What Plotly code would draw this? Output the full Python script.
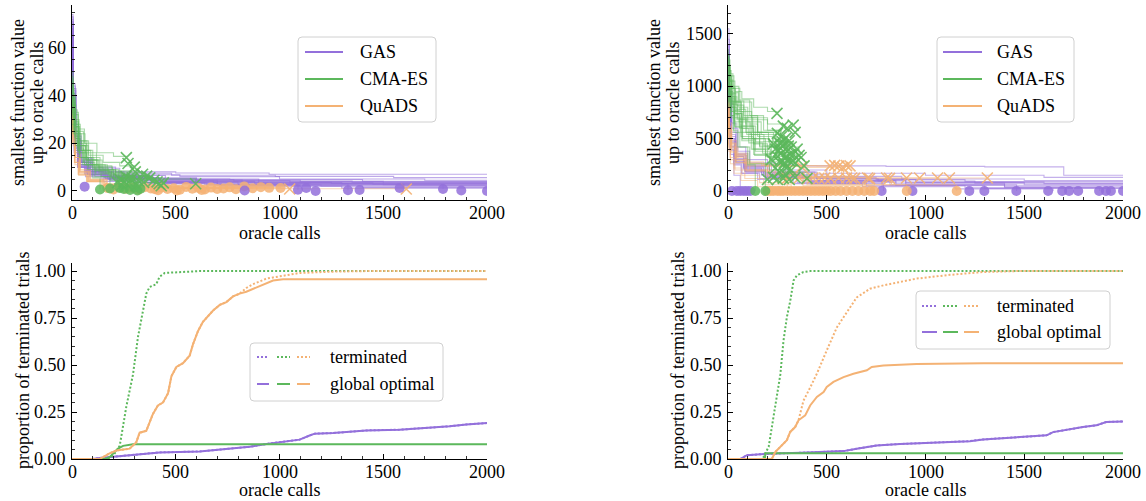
import plotly.graph_objects as go

W, H = 1146, 501
PURPLE = "#9370DB"
GREEN = "#5CB85C"
ORANGE = "#F4B274"
FONT = "Liberation Serif, Times New Roman, serif"

# ---------------- data: top-left (smallest value, problem 1) ----------------
gas_tl = [
    ([0, 5, 15, 35, 80, 160, 300, 600, 1100, 2000], [74, 45, 25, 14, 9, 7, 5.5, 4.5, 3.8, 3.8]),
    ([0, 4, 12, 30, 70, 150, 320, 700, 1300, 2000], [65, 38, 20, 12, 8, 6, 4.5, 3.5, 3, 3]),
    ([0, 6, 18, 40, 90, 200, 450, 900, 1500, 2000], [70, 42, 22, 13, 9, 6.5, 5, 4, 3.2, 3.2]),
    ([0, 5, 14, 32, 75, 170, 380, 800, 1600, 2000], [62, 35, 18, 11, 7, 5, 3.8, 2.8, 2.2, 2.2]),
    ([0, 3, 10, 28, 60, 140, 300, 650, 1200, 2000], [58, 30, 16, 10, 7, 5, 3.5, 2.5, 2, 2]),
    ([0, 7, 20, 45, 100, 250, 520, 1000, 1700, 2000], [68, 40, 21, 12, 8, 6.8, 6, 5, 4.5, 4.5]),
    ([0, 4, 13, 36, 85, 180, 400, 850, 1400, 2000], [60, 34, 17, 10, 6.5, 4.5, 3, 2.2, 1.5, 1.5]),
    ([0, 5, 16, 38, 95, 210, 500, 950, 1600, 2000], [72, 44, 24, 14, 10, 8, 7.5, 7, 7, 7]),
    ([0, 6, 17, 42, 88, 190, 420, 880, 1500, 2000], [66, 37, 19, 11, 7.5, 5.5, 4, 3, 2.6, 2.6]),
    ([0, 4, 11, 27, 65, 150, 330, 720, 1300, 2000], [55, 30, 17, 10, 6, 4, 3, 2, 1.2, 1.2]),
    ([0, 5, 15, 35, 80, 170, 350, 700, 1089], [64, 36, 19, 11, 7, 5, 3.5, 2.5, 0.5]),
    ([0, 6, 16, 40, 90, 200, 420, 900, 1330], [69, 39, 20, 12, 8, 5.5, 4, 3, 0.3]),
    ([0, 4, 12, 30, 75, 160, 340, 680, 1250, 2000], [61, 33, 18, 10, 6.8, 5.2, 4.2, 3.6, 3.1, 3.1]),
    ([0, 5, 14, 33, 80, 175, 360, 760, 1400, 2000], [67, 36, 19, 11, 7.2, 5.8, 5, 4.8, 4, 4]),
    ([0, 5, 13, 31, 70, 160, 330, 640, 1100, 2000], [63, 35, 18, 10.5, 7, 5, 3.4, 2.6, 2.4, 2.4]),
    ([0, 6, 15, 37, 84, 185, 390, 820, 1450, 1788], [71, 41, 22, 13, 8.5, 6, 4.6, 3.4, 2.8, 0.8]),
    ([0, 4, 10, 26, 62, 145, 310, 600, 1050, 2000], [59, 33, 19, 12, 8.2, 6.4, 5.2, 4.4, 3.4, 3.4]),
    ([0, 6, 19, 44, 98, 230, 480, 980, 1550, 2000], [73, 43, 23, 13.5, 9.5, 7.4, 6.6, 6.1, 5.6, 5.6]),
    ([0, 5, 12, 29, 68, 155, 340, 700, 1150, 2000], [64, 36, 20, 12, 8, 5.6, 3.6, 2.9, 2.7, 2.7]),
    ([0, 4, 14, 34, 78, 165, 370, 780, 1350, 2000], [68, 38, 21, 12.5, 8.4, 6.2, 4.8, 4.1, 3.6, 3.6]),
]
cma_tl = [
    ([0, 5, 15, 30, 60, 120, 200, 262], [48, 40, 32, 26, 20, 16, 14.5, 14.2]),
    ([0, 6, 18, 40, 80, 150, 230, 300], [42, 36, 28, 21, 15, 12, 10.5, 10]),
    ([0, 4, 12, 28, 55, 110, 180, 270], [38, 32, 25, 18, 12, 8.5, 6.5, 6]),
    ([0, 5, 14, 32, 70, 130, 210, 340], [45, 38, 29, 20, 13, 9, 7.5, 7]),
    ([0, 7, 20, 45, 90, 160, 250, 410], [35, 30, 24, 17, 11, 7.5, 5, 3.8]),
    ([0, 5, 15, 35, 75, 140, 220, 300], [30, 26, 20, 14, 9, 6, 4, 1.5]),
    ([0, 4, 13, 30, 60, 110, 183], [40, 33, 25, 17, 11, 6, 1]),
    ([0, 6, 16, 36, 70, 130, 200, 250, 320], [33, 28, 22, 16, 11, 7.5, 5.5, 4.5, 4.2]),
    ([0, 5, 14, 30, 65, 120, 190, 280, 430], [44, 37, 28, 19, 13, 8.5, 5.5, 3.5, 2.2]),
    ([0, 4, 12, 27, 50, 100, 135], [37, 31, 24, 17, 11, 5.5, 0.6]),
    ([0, 6, 18, 38, 80, 150, 240, 360], [28, 24, 19, 14, 10, 7.5, 6.5, 6.2]),
    ([0, 5, 15, 34, 72, 135, 210, 596], [46, 39, 30, 21, 14, 8.5, 5, 3]),
    ([0, 4, 10, 25, 55, 100, 170, 290], [50, 43, 34, 25, 17, 11, 8, 5.5]),
    ([0, 6, 16, 33, 66, 125, 195, 305], [41, 35, 27, 19, 13, 10, 8.5, 8]),
    ([0, 5, 13, 29, 58, 115, 185, 250], [36, 30, 23, 16, 11, 7, 4.5, 4]),
    ([0, 5, 17, 37, 78, 145, 225, 375], [43, 36, 27, 19, 13, 9, 6, 5.5]),
    ([0, 3, 11, 24, 52, 105, 175, 280], [39, 34, 27, 20, 14, 9.5, 6.8, 3.2]),
    ([0, 6, 14, 31, 63, 118, 192, 260], [47, 41, 33, 24, 16, 10.5, 7, 5.2]),
]
quads_tl = [
    ([0, 5, 15, 35, 80, 150, 250, 400, 560], [36, 24, 14, 8, 4.5, 2.5, 1.8, 1.2, 0.8]),
    ([0, 4, 12, 30, 70, 140, 240, 380, 720], [32, 20, 12, 7, 4, 2.2, 1.5, 1.0, 0.6]),
    ([0, 6, 18, 40, 90, 170, 300, 500, 1005], [40, 27, 16, 9, 5, 3, 2, 1.5, 1.2]),
    ([0, 5, 14, 32, 75, 160, 260, 420], [30, 19, 11, 6.5, 3.8, 2.2, 1.4, 0.9]),
    ([0, 4, 13, 34, 78, 155, 280, 460, 870], [34, 22, 13, 7.5, 4.2, 2.4, 1.6, 1.1, 0.9]),
    ([0, 6, 16, 38, 85, 165, 230], [38, 25, 15, 8.5, 4.8, 2.8, 1.5]),
    ([0, 5, 15, 36, 82, 158, 290, 480, 1049], [35, 23, 14, 8, 4.5, 2.6, 1.8, 1.2, 0.8]),
    ([0, 5, 14, 33, 76, 150, 270, 480, 800, 1611], [33, 21, 12, 7, 4, 2.4, 1.6, 1.1, 0.9, 0.8]),
    ([0, 4, 12, 30, 70, 145, 250, 390, 640], [31, 20, 12, 7, 4, 2.3, 1.5, 1.0, 0.7]),
    ([0, 6, 17, 40, 88, 168, 300, 520, 950], [37, 24, 14, 8, 4.6, 2.7, 1.9, 1.4, 1.0]),
]
gas_tl_dot_x = [61, 832, 1089, 1129, 1174, 1330, 1386, 1579, 1788, 1876, 2000]
gas_tl_dot_y = [1.8, 0.2, 0.5, 1.2, 0.0, 0.3, 0.4, 1.2, 0.8, 0.2, 0.0]
cma_tl_dot_x = [135, 183, 230, 250, 280, 300, 315, 330]
cma_tl_dot_y = [0.6, 1.0, 1.2, 0.8, 0.4, 1.5, 0.2, 0.9]
cma_tl_x_x = [262, 270, 300, 305, 340, 360, 375, 395, 410, 420, 430, 440, 596, 230, 250, 280, 240,
              260, 290, 320, 220, 310, 265, 285, 345]
cma_tl_x_y = [14, 11.5, 10, 8, 7, 6.2, 5.5, 4.5, 3.8, 3, 2.2, 3.4, 3, 5, 4, 3.2, 2.5,
              6, 5.5, 4.2, 3.5, 2.4, 2.8, 4.8, 3.6]
quads_tl_dot_x = [170, 200, 230, 260, 290, 320, 350, 380, 400, 430, 460, 490, 520, 550, 580, 610,
                  640, 670, 700, 730, 760, 790, 830, 870, 910, 950, 1005, 415, 505, 625]
quads_tl_dot_y = [1.2, 0.6, 1.5, 0.9, 1.3, 0.5, 1.6, 1.0, 0.7, 1.4, 0.8, 1.1, 0.5, 1.7, 0.9, 1.2,
                  0.6, 1.4, 0.8, 1.0, 1.5, 0.7, 1.9, 1.1, 1.6, 1.3, 1.2, 0.3, 0.2, 0.4]
quads_tl_x_x = [1049, 1611]
quads_tl_x_y = [0.8, 0.8]

# ---------------- data: top-right (smallest value, problem 2) ----------------
gas_tr = [
    ([0, 5, 15, 40, 90, 200, 400, 800, 1300, 1700, 2000], [1550, 1000, 650, 420, 300, 250, 240, 235, 230, 150, 150]),
    ([0, 4, 12, 35, 80, 180, 380, 750, 1200, 2000], [1300, 800, 500, 330, 230, 170, 130, 110, 90, 90]),
    ([0, 6, 18, 45, 100, 220, 450, 900, 1500, 2000], [1400, 900, 560, 360, 250, 180, 120, 80, 60, 60]),
    ([0, 5, 14, 38, 85, 190, 410, 820, 1400, 2000], [1200, 720, 430, 280, 190, 130, 90, 60, 40, 40]),
    ([0, 3, 10, 30, 70, 160, 350, 700, 1200, 2000], [1100, 650, 400, 260, 170, 120, 80, 50, 30, 30]),
    ([0, 7, 20, 50, 110, 240, 500, 1000, 1600, 2000], [1450, 950, 600, 380, 270, 200, 170, 150, 130, 130]),
    ([0, 4, 13, 36, 85, 180, 400, 850, 1400, 2000], [1250, 760, 460, 300, 200, 140, 100, 75, 55, 55]),
    ([0, 5, 16, 38, 95, 210, 500, 950, 1600, 2000], [1350, 850, 520, 340, 230, 160, 110, 85, 70, 70]),
    ([0, 4, 12, 30, 62], [1000, 600, 350, 150, 0]),
    ([0, 5, 15, 40, 90, 200, 420, 787], [1150, 700, 420, 270, 180, 120, 70, 0]),
    ([0, 6, 17, 42, 95, 210, 450, 900, 1461], [1280, 780, 480, 310, 210, 150, 100, 60, 0]),
    ([0, 5, 14, 35, 85, 190, 420, 850, 1400, 1882], [1180, 700, 420, 280, 190, 130, 85, 55, 35, 0]),
    ([0, 4, 12, 32, 80, 170, 380, 780, 1300, 2000], [1320, 820, 500, 330, 220, 150, 95, 50, 25, 25]),
    ([0, 5, 15, 38, 90, 200, 440, 880, 1500, 2000], [1400, 870, 540, 350, 240, 180, 140, 115, 100, 100]),
    ([0, 6, 16, 36, 78, 170, 360, 760, 1250, 2000], [1260, 780, 470, 300, 210, 160, 120, 95, 75, 75]),
    ([0, 4, 11, 29, 66, 150, 330, 680, 1150, 1646], [1120, 660, 390, 250, 170, 110, 70, 40, 20, 0]),
]
cma_tr = [
    ([0, 5, 15, 35, 70, 130, 200, 248], [1250, 1150, 1050, 950, 880, 800, 760, 742]),
    ([0, 4, 12, 30, 60, 120, 200, 280], [1100, 1000, 920, 850, 760, 680, 640, 620]),
    ([0, 6, 18, 40, 80, 150, 230, 330], [1150, 1050, 930, 820, 700, 560, 470, 420]),
    ([0, 5, 14, 32, 70, 130, 210, 300], [1050, 950, 850, 740, 620, 500, 420, 380]),
    ([0, 7, 20, 45, 90, 160, 250, 350], [1000, 900, 800, 680, 560, 430, 350, 300]),
    ([0, 5, 15, 35, 75, 140, 220, 300], [1180, 1050, 900, 760, 620, 470, 360, 290]),
    ([0, 4, 13, 30, 60, 110, 189], [900, 800, 700, 560, 420, 260, 0]),
    ([0, 6, 16, 36, 70, 130, 200, 260], [1120, 1000, 880, 740, 600, 450, 320, 250]),
    ([0, 5, 14, 30, 65, 120, 190, 280, 400], [1280, 1150, 1000, 850, 680, 500, 330, 180, 120]),
    ([0, 4, 12, 27, 50, 100, 138], [950, 850, 720, 580, 420, 250, 0]),
    ([0, 6, 18, 38, 80, 150, 240, 360], [1230, 1100, 980, 860, 720, 560, 420, 340]),
    ([0, 5, 15, 34, 72, 135, 210, 310], [1020, 920, 800, 660, 500, 340, 200, 110]),
    ([0, 5, 12, 30, 60, 120, 200, 270], [1300, 1200, 1100, 980, 850, 700, 580, 520]),
    ([0, 4, 14, 33, 70, 130, 220, 230], [980, 880, 760, 620, 480, 350, 250, 220]),
    ([0, 5, 16, 34, 68, 125, 205, 320], [1200, 1100, 980, 850, 700, 560, 470, 430]),
    ([0, 6, 15, 31, 62, 118, 190, 290], [1060, 950, 830, 700, 560, 400, 260, 180]),
    ([0, 3, 10, 25, 55, 110, 180, 265], [1350, 1250, 1120, 1000, 870, 720, 580, 500]),
    ([0, 5, 11, 28, 58, 105, 175, 290], [1080, 980, 860, 730, 600, 460, 360, 330]),
    ([0, 4, 9, 22, 48, 95, 160, 240], [1150, 1060, 950, 830, 690, 540, 420, 350]),
    ([0, 6, 14, 30, 66, 128, 215, 310], [940, 860, 760, 640, 520, 400, 300, 260]),
    ([0, 3, 8, 20, 45, 90, 150, 225, 305], [1220, 1120, 1010, 900, 780, 640, 520, 440, 400]),
    ([0, 5, 13, 26, 56, 112, 182, 255, 335], [1020, 940, 860, 770, 660, 540, 430, 370, 350]),
    ([0, 4, 10, 24, 52, 100, 168, 245], [1280, 1180, 1060, 940, 800, 660, 540, 470]),
    ([0, 6, 17, 35, 74, 138, 212, 285], [900, 820, 720, 610, 500, 380, 280, 240]),
]
quads_tr = [
    ([0, 5, 15, 40, 90, 180, 300, 450, 618], [850, 600, 450, 350, 280, 250, 242, 240, 240]),
    ([0, 4, 12, 35, 80, 170, 300, 517], [780, 550, 420, 320, 270, 245, 240, 240]),
    ([0, 6, 18, 45, 100, 200, 350, 600, 900, 1313], [900, 650, 480, 360, 260, 180, 140, 124, 124, 124]),
    ([0, 5, 14, 38, 85, 190, 360, 640], [700, 500, 370, 270, 200, 150, 125, 124]),
    ([0, 3, 10, 30, 70, 160, 300, 500], [650, 450, 320, 220, 150, 80, 30, 0]),
    ([0, 7, 20, 50, 110, 240, 420, 1158], [820, 580, 420, 300, 200, 120, 60, 0]),
    ([0, 4, 13, 36, 85, 180, 320, 420], [600, 420, 300, 200, 120, 60, 20, 0]),
    ([0, 5, 16, 38, 95, 210, 380, 700, 1061], [880, 620, 460, 340, 240, 160, 130, 124, 124]),
    ([0, 4, 12, 30, 65, 150, 260], [550, 380, 260, 170, 100, 40, 0]),
    ([0, 5, 15, 40, 90, 200, 380, 740], [760, 540, 400, 290, 200, 120, 50, 0]),
    ([0, 6, 17, 42, 95, 210, 400, 905], [720, 520, 380, 270, 190, 120, 60, 0]),
    ([0, 5, 14, 35, 85, 190, 360, 581], [830, 600, 440, 330, 260, 235, 225, 225]),
]
gas_tr_dot_x = [20, 45, 62, 80, 96, 113, 778, 934, 1222, 1298, 1460, 1621, 1692, 1727, 1773, 1879,
                1914, 1939, 2000]
gas_tr_dot_y = [0] * 19
cma_tr_dot_x = [138, 189]
cma_tr_dot_y = [0, 0]
cma_tr_x_x = [248, 280, 300, 330, 340, 250, 270, 290, 310, 260, 230, 280, 320, 350, 240, 300, 270,
              330, 360, 250, 290, 310, 220, 260, 340, 280, 300, 240, 320, 370, 260, 290, 230, 280,
              310, 400, 385, 250, 200, 340, 275, 305, 265, 295, 325, 255, 285, 315]
cma_tr_x_y = [742, 620, 600, 630, 560, 550, 520, 500, 480, 460, 450, 440, 420, 400, 400, 380, 360,
              350, 340, 330, 310, 290, 300, 280, 270, 250, 230, 220, 200, 320, 180, 160, 130, 120,
              110, 120, 240, 110, 110, 130, 470, 430, 410, 330, 290, 380, 270, 350]
quads_tr_dot_x = [200, 215, 230, 250, 265, 280, 300, 320, 340, 360, 380, 400, 420, 440, 460, 480,
                  500, 520, 545, 570, 600, 630, 660, 690, 720, 740, 905, 1158]
quads_tr_dot_y = [0] * 28
quads_tr_x_x = [517, 540, 560, 581, 600, 618, 373, 281, 300, 360, 400, 430, 460, 490, 520, 560,
                600, 626, 641, 707, 717, 803, 818, 904, 970, 1061, 1121, 1313]
quads_tr_x_y = [240, 245, 238, 225, 242, 240, 230, 124, 120, 124, 118, 124, 122, 124, 120, 124,
                124, 124, 120, 124, 118, 124, 120, 124, 124, 124, 124, 124]

# ---------------- data: bottom-left (proportion of trials, problem 1) ----------------
gas_bl_x = [0, 100, 133, 294, 422, 615, 776, 856, 937, 1017, 1097, 1145, 1170, 1258, 1338, 1418,
            1579, 1740, 1820, 1901, 2000]
gas_bl_y = [0, 0, 0.005, 0.02, 0.035, 0.04, 0.055, 0.065, 0.08, 0.09, 0.103, 0.125, 0.135, 0.138,
            0.143, 0.152, 0.156, 0.167, 0.174, 0.184, 0.191]
cma_term_bl_x = [0, 170, 200, 230, 262, 294, 318, 334, 358, 374, 406, 422, 447, 615, 2000]
cma_term_bl_y = [0, 0, 0.02, 0.07, 0.28, 0.45, 0.65, 0.74, 0.88, 0.915, 0.93, 0.97, 0.99, 1.0, 1.0]
cma_glob_bl_x = [0, 160, 181, 222, 246, 294, 2000]
cma_glob_bl_y = [0, 0, 0.01, 0.055, 0.07, 0.078, 0.078]
quads_glob_bl_x = [0, 133, 181, 214, 278, 310, 326, 358, 390, 414, 438, 463, 479, 503, 535, 567,
                   583, 607, 631, 655, 680, 712, 744, 776, 808, 840, 872, 920, 969, 1017, 2000]
quads_glob_bl_y = [0, 0, 0.03, 0.045, 0.055, 0.09, 0.14, 0.15, 0.24, 0.285, 0.30, 0.35, 0.44, 0.49,
                   0.51, 0.55, 0.61, 0.68, 0.73, 0.76, 0.79, 0.82, 0.835, 0.865, 0.88, 0.89, 0.905,
                   0.93, 0.95, 0.957, 0.957]
quads_term_bl_x = [0, 133, 181, 214, 278, 310, 326, 358, 390, 414, 438, 463, 479, 503, 535, 567,
                   583, 607, 631, 655, 680, 712, 744, 776, 808, 840, 872, 937, 1017, 1097, 1258,
                   1418, 2000]
quads_term_bl_y = [0, 0, 0.03, 0.045, 0.055, 0.09, 0.14, 0.15, 0.24, 0.285, 0.30, 0.35, 0.44, 0.49,
                   0.51, 0.55, 0.61, 0.68, 0.73, 0.76, 0.79, 0.82, 0.835, 0.865, 0.88, 0.91, 0.93,
                   0.96, 0.975, 0.99, 0.997, 1.0, 1.0]

# ---------------- data: bottom-right (proportion of trials, problem 2) ----------------
gas_br_x = [0, 62, 96, 197, 366, 585, 652, 753, 871, 1124, 1225, 1292, 1461, 1613, 1646, 1730,
            1797, 1865, 1915, 2000]
gas_br_y = [0, 0, 0.02, 0.028, 0.033, 0.042, 0.055, 0.072, 0.08, 0.09, 0.095, 0.104, 0.117, 0.126,
            0.143, 0.16, 0.17, 0.179, 0.197, 0.2]
cma_term_br_x = [0, 175, 206, 239, 265, 281, 298, 315, 332, 349, 382, 416, 2000]
cma_term_br_y = [0, 0, 0.065, 0.28, 0.45, 0.63, 0.755, 0.84, 0.95, 0.977, 0.995, 1.0, 1.0]
cma_glob_br_x = [0, 187, 189, 2000]
cma_glob_br_y = [0, 0, 0.03, 0.03]
quads_glob_br_x = [0, 222, 239, 273, 298, 315, 340, 357, 391, 416, 450, 484, 500, 534, 585, 635,
                   703, 728, 787, 955, 1124, 1292, 2000]
quads_glob_br_y = [0, 0, 0.037, 0.073, 0.1, 0.144, 0.17, 0.206, 0.232, 0.285, 0.33, 0.356, 0.383,
                   0.41, 0.436, 0.454, 0.472, 0.49, 0.498, 0.505, 0.509, 0.51, 0.51]
quads_term_br_x = [0, 222, 239, 273, 298, 315, 340, 357, 382, 416, 450, 500, 551, 601, 652, 719,
                   787, 955, 1124, 1292, 1461, 2000]
quads_term_br_y = [0, 0, 0.037, 0.073, 0.1, 0.144, 0.17, 0.206, 0.31, 0.38, 0.454, 0.578, 0.70,
                   0.78, 0.86, 0.906, 0.924, 0.96, 0.98, 0.995, 1.0, 1.0]

# ---------------- texts ----------------
method_names = ["GAS", "CMA-ES", "QuADS"]
bottom_legend_labels = ["terminated", "global optimal"]
x_title = "oracle calls"
y_title_top = ["smallest function value", "up to oracle calls"]
y_title_bottom = "proportion of terminated trials"
x_tick_vals = [0, 500, 1000, 1500, 2000]
y_tick_vals_tl = [0, 20, 40, 60]
y_tick_vals_tr = [0, 500, 1000, 1500]
y_tick_vals_bottom = [0, 0.25, 0.5, 0.75, 1.0]
y_tick_text_bottom = ["0.00", "0.25", "0.50", "0.75", "1.00"]

# ---------------- figure ----------------
fig = go.Figure()


def px2paper(x, y):
    return x / W, 1 - y / H


def add_trajs(trajs, color, xa, ya, op=0.5):
    for xs, ys in trajs:
        fig.add_trace(go.Scatter(x=xs, y=ys, mode="lines", xaxis=xa, yaxis=ya,
                                 line=dict(color=color, width=1.1, shape="hv"),
                                 opacity=op, showlegend=False, hoverinfo="skip"))


def add_markers(xs, ys, color, symbol, xa, ya):
    if symbol == "circle":
        marker = dict(symbol="circle", size=10, color=color, opacity=0.85, line=dict(width=0))
    else:
        marker = dict(symbol="x-thin", size=11, color=color, opacity=0.9,
                      line=dict(width=1.6, color=color))
    fig.add_trace(go.Scatter(x=xs, y=ys, mode="markers", xaxis=xa, yaxis=ya, marker=marker,
                             showlegend=False, hoverinfo="skip"))


def add_curve(xs, ys, color, dotted, xa, ya):
    fig.add_trace(go.Scatter(x=xs, y=ys, mode="lines", xaxis=xa, yaxis=ya,
                             line=dict(color=color, width=2, dash="2px,2px" if dotted else "solid"),
                             showlegend=False, hoverinfo="skip"))


# top-left
add_trajs(gas_tl, PURPLE, "x", "y", 0.6)
add_trajs(quads_tl, ORANGE, "x", "y")
add_trajs(cma_tl, GREEN, "x", "y")
add_markers(quads_tl_dot_x, quads_tl_dot_y, ORANGE, "circle", "x", "y")
add_markers(quads_tl_x_x, quads_tl_x_y, ORANGE, "x", "x", "y")
add_markers(gas_tl_dot_x, gas_tl_dot_y, PURPLE, "circle", "x", "y")
add_markers(cma_tl_dot_x, cma_tl_dot_y, GREEN, "circle", "x", "y")
add_markers(cma_tl_x_x, cma_tl_x_y, GREEN, "x", "x", "y")

# top-right
add_trajs(gas_tr, PURPLE, "x2", "y2", 0.55)
add_trajs(quads_tr, ORANGE, "x2", "y2")
add_trajs(cma_tr, GREEN, "x2", "y2")
add_markers(gas_tr_dot_x, gas_tr_dot_y, PURPLE, "circle", "x2", "y2")
add_markers(quads_tr_dot_x, quads_tr_dot_y, ORANGE, "circle", "x2", "y2")
add_markers(quads_tr_x_x, quads_tr_x_y, ORANGE, "x", "x2", "y2")
add_markers(cma_tr_dot_x, cma_tr_dot_y, GREEN, "circle", "x2", "y2")
add_markers(cma_tr_x_x, cma_tr_x_y, GREEN, "x", "x2", "y2")

# bottom-left
add_curve(gas_bl_x, gas_bl_y, PURPLE, True, "x3", "y3")
add_curve(gas_bl_x, gas_bl_y, PURPLE, False, "x3", "y3")
add_curve(cma_term_bl_x, cma_term_bl_y, GREEN, True, "x3", "y3")
add_curve(cma_glob_bl_x, cma_glob_bl_y, GREEN, False, "x3", "y3")
add_curve(quads_term_bl_x, quads_term_bl_y, ORANGE, True, "x3", "y3")
add_curve(quads_glob_bl_x, quads_glob_bl_y, ORANGE, False, "x3", "y3")

# bottom-right
add_curve(gas_br_x, gas_br_y, PURPLE, True, "x4", "y4")
add_curve(gas_br_x, gas_br_y, PURPLE, False, "x4", "y4")
add_curve(cma_term_br_x, cma_term_br_y, GREEN, True, "x4", "y4")
add_curve(cma_glob_br_x, cma_glob_br_y, GREEN, False, "x4", "y4")
add_curve(quads_term_br_x, quads_term_br_y, ORANGE, True, "x4", "y4")
add_curve(quads_glob_br_x, quads_glob_br_y, ORANGE, False, "x4", "y4")

# ---------------- axes ----------------


def axis(domain, rng, dtick, minor_dtick, anchor):
    return dict(domain=domain, range=rng, dtick=dtick, tick0=0, anchor=anchor,
                showline=True, linecolor="black", linewidth=1, mirror=False,
                ticks="inside", ticklen=5, tickwidth=1, tickcolor="black",
                showgrid=False, zeroline=False, showticklabels=False, fixedrange=True,
                minor=dict(ticks="inside", ticklen=3, tickwidth=0.8, tickcolor="black",
                           dtick=minor_dtick, tick0=0, showgrid=False))


xl = [72 / W, 487 / W]
xr = [728 / W, 1123 / W]
yt = [1 - 200 / H, 1 - 5 / H]
yb = [1 - 459 / H, 1 - 263 / H]

fig.update_layout(
    width=W, height=H,
    margin=dict(l=0, r=0, t=0, b=0),
    paper_bgcolor="white", plot_bgcolor="white",
    showlegend=False, hovermode=False,
    font=dict(family=FONT, size=18, color="black"),
    xaxis=axis(xl, [0, 2000], 500, 100, "y"),
    yaxis=axis(yt, [-3.8, 78], 20, 5, "x"),
    xaxis2=axis(xr, [0, 2000], 500, 100, "y2"),
    yaxis2=axis(yt, [-86, 1777], 500, 100, "x2"),
    xaxis3=axis(xl, [0, 2000], 500, 100, "y3"),
    yaxis3=axis(yb, [0, 1.043], 0.25, 0.05, "x3"),
    xaxis4=axis(xr, [0, 2000], 500, 100, "y4"),
    yaxis4=axis(yb, [0, 1.043], 0.25, 0.05, "x4"),
)

# ---------------- hand-drawn legends, tick labels and axis titles ----------------
shapes = []
annotations = []
TXT = dict(family=FONT, size=18, color="black")


def rounded_box(x0, y0, x1, y1, r=4):
    rx, ry = r / W, r / H
    a0, b1 = px2paper(x0, y0)
    a1, b0 = px2paper(x1, y1)
    path = (f"M {a0 + rx},{b1} L {a1 - rx},{b1} Q {a1},{b1} {a1},{b1 - ry} "
            f"L {a1},{b0 + ry} Q {a1},{b0} {a1 - rx},{b0} L {a0 + rx},{b0} "
            f"Q {a0},{b0} {a0},{b0 + ry} L {a0},{b1 - ry} Q {a0},{b1} {a0 + rx},{b1} Z")
    shapes.append(dict(type="path", path=path, xref="paper", yref="paper",
                       fillcolor="rgba(255,255,255,0.8)", line=dict(color="#d0d0d0", width=1),
                       layer="above"))


def sample(x0, x1, y, color, dotted):
    a0, b = px2paper(x0, y)
    a1, _ = px2paper(x1, y)
    shapes.append(dict(type="line", xref="paper", yref="paper", x0=a0, x1=a1, y0=b, y1=b,
                       line=dict(color=color, width=2, dash="2px,2px" if dotted else "solid"),
                       layer="above"))


def label(x, y, text, xanchor="left", angle=0):
    a, b = px2paper(x, y)
    annotations.append(dict(text=text, x=a, y=b, xref="paper", yref="paper", xanchor=xanchor,
                            yanchor="middle", showarrow=False, textangle=angle, font=TXT))


colors = [PURPLE, GREEN, ORANGE]

# top legends
for (bx0, bx1, sx0, sx1, tx) in [(298, 436, 305, 343, 358), (937, 1074, 943, 982, 995)]:
    rounded_box(bx0, 37, bx1, 122)
    for name, col, yy in zip(method_names, colors, [52, 79, 106]):
        sample(sx0, sx1, yy, col, False)
        label(tx, yy, name)

# bottom legends
for (bx0, by0, bx1, by1, segs, tx, rows) in [
    (250, 343, 443, 401, [(257, 269), (277, 290), (297, 310)], 328, [357, 384]),
    (916, 291, 1110, 349, [(922, 937), (943, 958), (964, 979)], 995, [306, 332]),
]:
    rounded_box(bx0, by0, bx1, by1)
    for lab, yy, dotted in zip(bottom_legend_labels, rows, [True, False]):
        for (s0, s1), col in zip(segs, colors):
            sample(s0, s1, yy, col, dotted)
        label(tx, yy, lab)

# tick labels
for xa, ty in [("x", 213), ("x2", 213), ("x3", 472), ("x4", 472)]:
    for v in x_tick_vals:
        annotations.append(dict(text=str(v), x=v, xref=xa, y=1 - ty / H, yref="paper",
                                xanchor="center", yanchor="middle", showarrow=False, font=TXT))
for ya, lx, vals, texts in [
    ("y", 68, y_tick_vals_tl, [str(v) for v in y_tick_vals_tl]),
    ("y2", 724, y_tick_vals_tr, [str(v) for v in y_tick_vals_tr]),
    ("y3", 68, y_tick_vals_bottom, y_tick_text_bottom),
    ("y4", 724, y_tick_vals_bottom, y_tick_text_bottom),
]:
    for v, t in zip(vals, texts):
        annotations.append(dict(text=t, x=lx / W, xref="paper", y=v, yref=ya,
                                xanchor="right", yanchor="middle", showarrow=False, font=TXT))

# axis titles
for cx in [(72 + 487) / 2, (728 + 1123) / 2]:
    label(cx, 233, x_title, "center")
    label(cx, 490, x_title, "center")
for (x1, x2) in [(18, 37), (654, 673)]:
    label(x1, 103, y_title_top[0], "center", -90)
    label(x2, 103, y_title_top[1], "center", -90)
for xb in [23, 678]:
    label(xb, 361, y_title_bottom, "center", -90)

fig.update_layout(shapes=shapes, annotations=annotations)

fig.write_html("out.html", config={"displayModeBar": False, "staticPlot": True},
               post_script="document.body.style.margin='0';document.body.style.overflow='hidden';")
